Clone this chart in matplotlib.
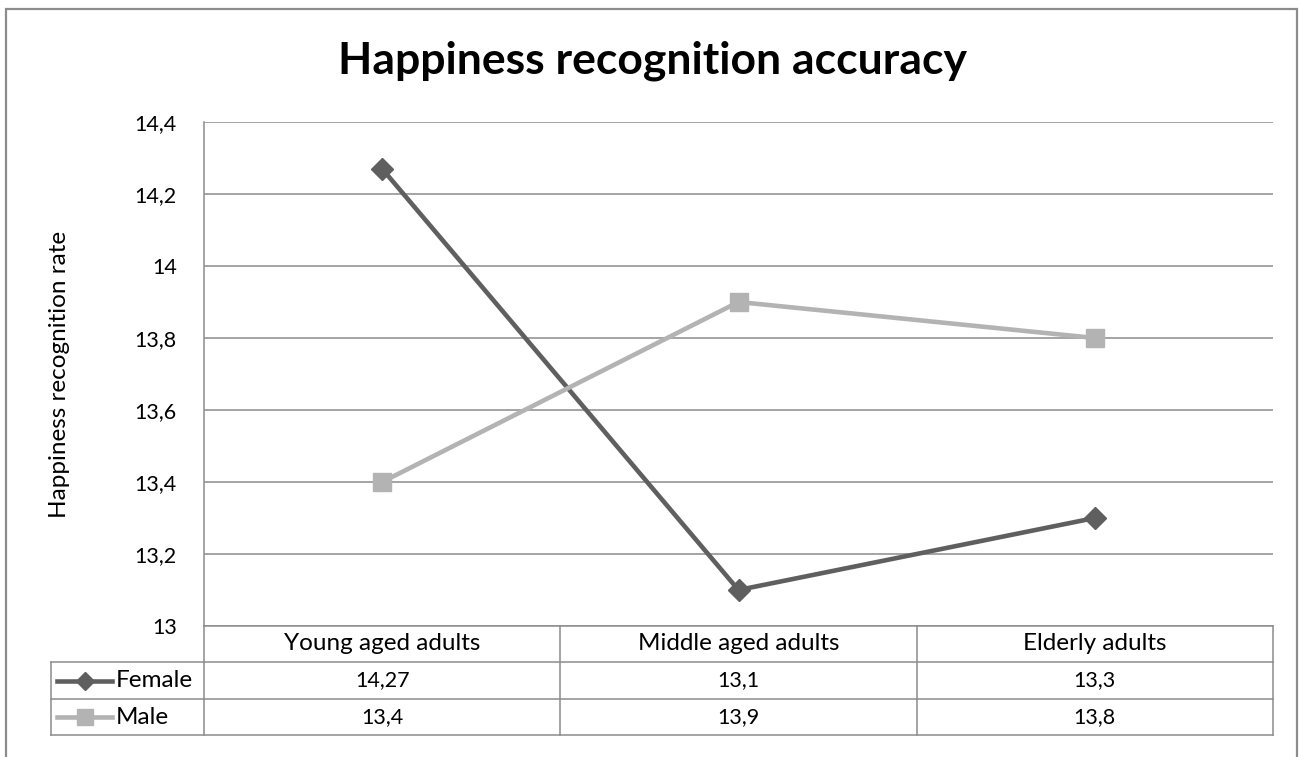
import numpy as np
import matplotlib.pyplot as plt
from matplotlib.lines import Line2D
from matplotlib.patches import Rectangle

plt.rcParams['font.family'] = ['Lato', 'DejaVu Sans']

categories = ['Young aged adults', 'Middle aged adults', 'Elderly adults']
female = [14.27, 13.1, 13.3]
male = [13.4, 13.9, 13.8]
yticks = [13.0, 13.2, 13.4, 13.6, 13.8, 14.0, 14.2, 14.4]

W, H = 1299, 757
c_female = '#5f5f5f'
c_male = '#b3b3b3'
c_grid = '#8c8c8c'
fs_num = 15.5
fs_word = 17.5


def fx(px):
    return px / W


def fy(py):
    return 1 - py / H


def fmt(v):
    s = ('%.2f' % v).rstrip('0').rstrip('.')
    return s.replace('.', ',')


fig = plt.figure(figsize=(W / 100, H / 100), dpi=100)

# outer chart frame
fig.add_artist(Rectangle((fx(6), fy(770)), fx(1297) - fx(6), fy(9) - fy(770),
                         transform=fig.transFigure, fill=False, ec='#8c8c8c', lw=1.6))

L, R, T, B = 204, 1273, 122, 626
ax = fig.add_axes([fx(L), fy(B), fx(R) - fx(L), fy(T) - fy(B)])
x = np.arange(len(categories))
ax.plot(x, female, color=c_female, lw=3.3, marker='D', ms=11, zorder=3)
ax.plot(x, male, color=c_male, lw=3.3, marker='s', ms=12.5, zorder=3)
ax.set_xlim(-0.5, len(categories) - 0.5)
ax.set_ylim(13, 14.4)
ax.set_yticks(yticks)
ax.set_yticklabels([fmt(v) for v in yticks], fontsize=fs_num)
ax.tick_params(axis='y', length=0, pad=19.5)
ax.set_xticks([])
for v in yticks:
    ax.axhline(v, color=c_grid, lw=1.1, zorder=1)
for s in ['top', 'right', 'bottom']:
    ax.spines[s].set_visible(False)
ax.spines['left'].set_color(c_grid)
ax.spines['left'].set_linewidth(1.1)
fig.text(fx(60), fy((T + B) / 2), 'Happiness recognition rate', rotation=90,
         ha='center', va='center', fontsize=fs_word)

fig.text(0.502, fy(61), 'Happiness recognition accuracy', ha='center', va='center',
         fontsize=32, fontweight='bold')

# data table
rows = [626, 662, 699, 735]
cols = [L + (R - L) * i / len(categories) for i in range(len(categories) + 1)]
kw = dict(transform=fig.transFigure, color=c_grid, lw=1.1)
fig.add_artist(Line2D([fx(L), fx(R)], [fy(rows[0])] * 2, **kw))
for r in rows[1:]:
    fig.add_artist(Line2D([fx(51), fx(R)], [fy(r)] * 2, **kw))
for c in cols:
    fig.add_artist(Line2D([fx(c)] * 2, [fy(rows[0]), fy(rows[-1])], **kw))
fig.add_artist(Line2D([fx(51)] * 2, [fy(rows[1]), fy(rows[-1])], **kw))

for i, cat in enumerate(categories):
    cx = (cols[i] + cols[i + 1]) / 2
    fig.text(fx(cx), fy((rows[0] + rows[1]) / 2), cat, ha='center', va='center', fontsize=fs_word)
    fig.text(fx(cx), fy((rows[1] + rows[2]) / 2), fmt(female[i]), ha='center', va='center', fontsize=fs_num)
    fig.text(fx(cx), fy((rows[2] + rows[3]) / 2), fmt(male[i]), ha='center', va='center', fontsize=fs_num)

for k, (name, col, mk, ms) in enumerate([('Female', c_female, 'D', 9.5), ('Male', c_male, 's', 11)]):
    yy = fy((rows[k + 1] + rows[k + 2]) / 2)
    fig.add_artist(Line2D([fx(57), fx(112)], [yy, yy], transform=fig.transFigure,
                          color=col, lw=3.3))
    fig.add_artist(Line2D([fx(85)], [yy], transform=fig.transFigure, color=col,
                          marker=mk, ms=ms, ls='none'))
    fig.text(fx(116), yy, name, ha='left', va='center', fontsize=fs_word)

fig.savefig('out.png', dpi=100)
